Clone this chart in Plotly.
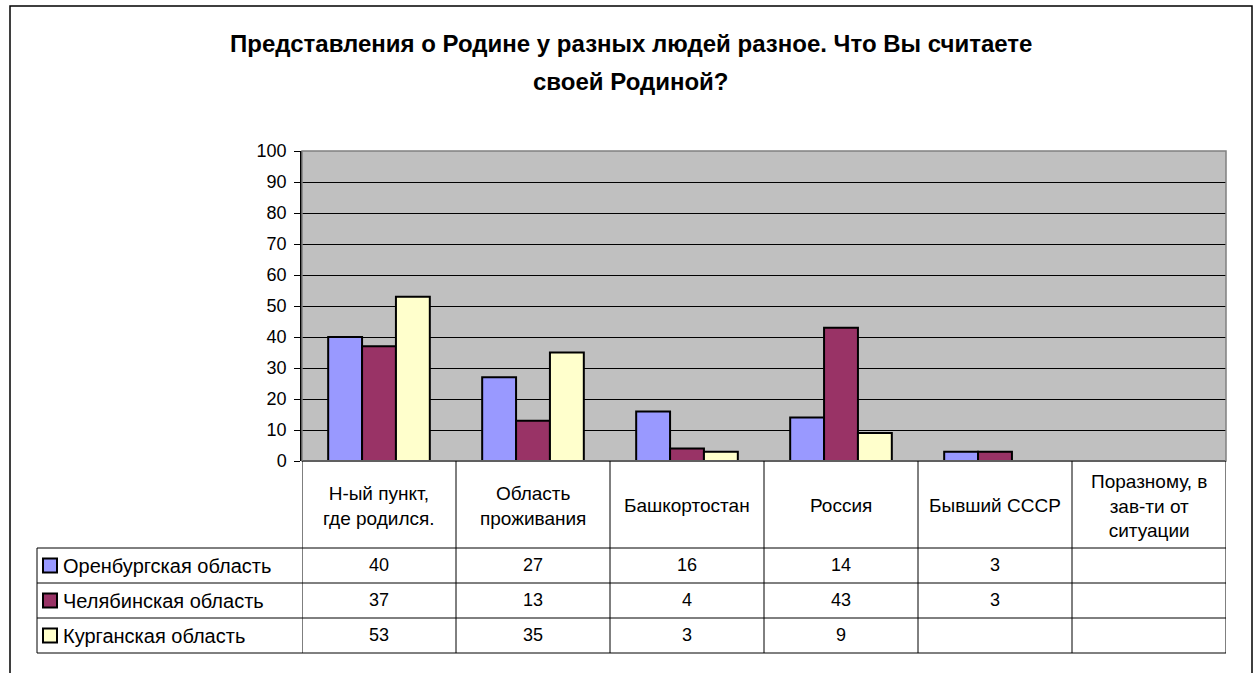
import plotly.graph_objects as go

title_lines = ["Представления о Родине у разных людей разное. Что Вы считаете", "своей Родиной?"]
categories = ["Н-ый пункт,<br>где родился.", "Область<br>проживания", "Башкортостан",
              "Россия", "Бывший СССР", "Поразному, в<br>зав-ти от<br>ситуации"]
series_names = ["Оренбургская область", "Челябинская область", "Курганская область"]
orenburg = [40, 27, 16, 14, 3, None]
chelyabinsk = [37, 13, 4, 43, 3, None]
kurgan = [53, 35, 3, 9, None, None]
series_values = [orenburg, chelyabinsk, kurgan]
colors = ["#9999FF", "#993366", "#FFFFCC"]
y_ticks = list(range(0, 101, 10))

FONT = "Arial, Liberation Sans, sans-serif"
W, H = 1258, 673
L, R, T, B = 302, 1226, 151, 461  # plot area pixels

def px(xp):
    return (xp - L) / (R - L)

def py(yp):
    return (B - yp) / (B - T)

fig = go.Figure()
xs = list(range(len(categories)))
for name, vals, col in zip(series_names, series_values, colors):
    fig.add_trace(go.Bar(x=xs, y=vals, name=name, marker=dict(color=col, line=dict(color="black", width=2)),
                         showlegend=False, hoverinfo="skip"))

shapes = []
annotations = []
# outer frame
shapes.append(dict(type="rect", xref="paper", yref="paper", x0=px(10), x1=px(1252), y0=py(720), y1=py(6),
                   line=dict(color="black", width=1.5), fillcolor="rgba(0,0,0,0)", layer="below"))
# plot area border
shapes.append(dict(type="rect", xref="paper", yref="paper", x0=0, x1=1, y0=0, y1=1,
                   line=dict(color="#808080", width=1.5), layer="above"))

# title lines
for yl, txt in zip([44, 81], title_lines):
    annotations.append(dict(x=px(631), y=py(yl), xref="paper", yref="paper", text="<b>" + txt + "</b>",
                            showarrow=False, font=dict(family=FONT, size=24, color="black"),
                            xanchor="center", yanchor="middle"))

header_bottom = 548
row_lines = [548, 583, 618, 653]
for yl in row_lines:
    shapes.append(dict(type="line", xref="paper", yref="paper", x0=px(37), x1=1, y0=py(yl), y1=py(yl),
                       line=dict(color="black", width=1)))
for k in range(len(categories) + 1):
    shapes.append(dict(type="line", xref="x", yref="paper", x0=k - 0.5, x1=k - 0.5, y0=0, y1=py(653),
                       line=dict(color="black", width=1)))
shapes.append(dict(type="line", xref="paper", yref="paper", x0=px(37), x1=px(37), y0=py(548), y1=py(653),
                   line=dict(color="black", width=1)))

for k, c in enumerate(categories):
    annotations.append(dict(x=k, y=py((B + header_bottom) / 2 + 1), xref="x", yref="paper", text=c,
                            showarrow=False, font=dict(family=FONT, size=19, color="black"),
                            xanchor="center", yanchor="middle", align="center"))
for i, (name, vals, col) in enumerate(zip(series_names, series_values, colors)):
    yc = (row_lines[i] + row_lines[i + 1]) / 2
    shapes.append(dict(type="rect", xref="paper", yref="paper", x0=px(43), x1=px(57), y0=py(yc + 7), y1=py(yc - 7),
                       fillcolor=col, line=dict(color="black", width=2)))
    annotations.append(dict(x=px(61), y=py(yc), xref="paper", yref="paper", text=name, showarrow=False,
                            font=dict(family=FONT, size=20, color="black"), xanchor="left", yanchor="middle"))
    for k, v in enumerate(vals):
        if v is not None:
            annotations.append(dict(x=k, y=py(yc - 1), xref="x", yref="paper", text=str(v), showarrow=False,
                                    font=dict(family=FONT, size=18, color="black"), xanchor="center", yanchor="middle"))

fig.update_layout(
    width=W, height=H,
    margin=dict(l=L, r=W - R, t=T, b=H - B, pad=0),
    paper_bgcolor="white", plot_bgcolor="#C0C0C0",
    barmode="group", bargap=0.34, bargroupgap=0,
    xaxis=dict(range=[-0.5, len(categories) - 0.5], showticklabels=False, showgrid=False, zeroline=False,
               showline=False, ticks=""),
    yaxis=dict(range=[0, 100], tickvals=y_ticks, showgrid=True, gridcolor="black", gridwidth=1,
               showline=True, linecolor="black", linewidth=1.5, ticks="outside", ticklen=6, tickcolor="black",
               ticklabelstandoff=4,
               tickfont=dict(family=FONT, size=18, color="black"), zeroline=True, zerolinecolor="black",
               zerolinewidth=1.5),
    shapes=shapes, annotations=annotations,
)
fig.write_html("out.html", config={"displayModeBar": False},
               post_script="document.body.style.margin='0';document.body.style.overflow='hidden';")
